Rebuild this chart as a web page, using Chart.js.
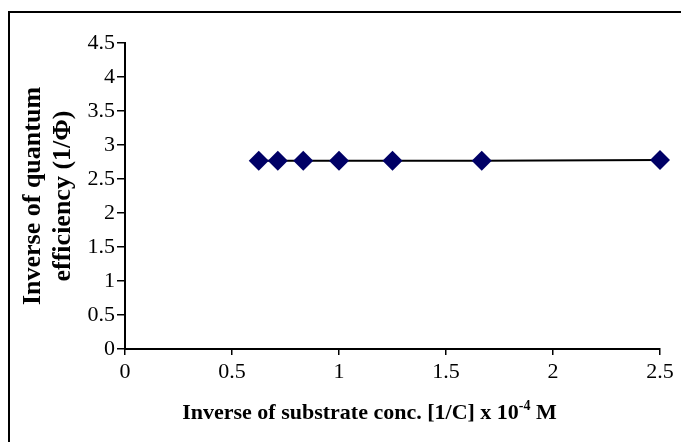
<!DOCTYPE html>
<html>
<head>
<meta charset="utf-8">
<script src="https://cdn.jsdelivr.net/npm/chart.js@4"></script>
<style>
  html, body { margin: 0; padding: 0; background: #fff; overflow: hidden; }
  #frame { position: absolute; left: 8px; top: 11px; width: 700px; height: 500px; border: 2px solid #000; }
  #wrap { position: absolute; left: 0; top: 0; width: 681px; height: 442px; }
</style>
</head>
<body>
<div id="frame"></div>
<div id="wrap"><canvas id="myChart" width="681" height="442"></canvas></div>
<script>
// inverse substrate concentration (x 10^-4 M) and inverse quantum efficiency
const inverseConc = [0.625, 0.714, 0.833, 1.0, 1.25, 1.667, 2.5];
const inverseQE = [2.77, 2.77, 2.77, 2.77, 2.77, 2.77, 2.78];
const xTicks = [0, 0.5, 1, 1.5, 2, 2.5];
const yTicks = [0, 0.5, 1, 1.5, 2, 2.5, 3, 3.5, 4, 4.5];
const xTitle = ['Inverse of substrate conc. [1/C] x 10', '-4', ' M'];

const serif = 'Liberation Serif, Times New Roman, serif';

// x axis title with a real superscript
const xTitlePlugin = {
  id: 'xTitle',
  afterDraw(chart) {
    const c = chart.ctx;
    const big = 'bold 22px ' + serif;
    const small = 'bold 14px ' + serif;
    c.save();
    c.fillStyle = '#000';
    c.textBaseline = 'alphabetic';
    c.font = big;
    const w0 = c.measureText(xTitle[0]).width;
    const w2 = c.measureText(xTitle[2]).width;
    c.font = small;
    const w1 = c.measureText(xTitle[1]).width;
    const total = w0 + w1 + w2;
    const xs = chart.scales.x;
    let x = (xs.left + xs.right) / 2 - 23 - total / 2;
    const y = xs.bottom - 23;
    c.font = big;
    c.fillText(xTitle[0], x, y);
    x += w0;
    c.font = small;
    c.fillText(xTitle[1], x, y - 9);
    x += w1;
    c.font = big;
    c.fillText(xTitle[2], x, y);
    c.restore();
  }
};

window.addEventListener('load', setup);
function setup() {
  const ctx = document.getElementById('myChart').getContext('2d');
  const points = inverseConc.map((x, i) => ({ x: x, y: inverseQE[i] }));

  new Chart(ctx, {
    type: 'scatter',
    data: {
      datasets: [
        {
          label: '1/Phi',
          data: points,
          showLine: true,
          clip: false,
          borderColor: '#000',
          borderWidth: 2,
          pointStyle: 'rectRot',
          pointRadius: 10,
          pointHoverRadius: 10,
          pointBackgroundColor: '#000066',
          pointBorderColor: '#000066',
          pointBorderWidth: 0
        }
      ]
    },
    options: {
      responsive: false,
      animation: false,
      layout: { padding: { top: 43, right: 21, left: 0, bottom: 0 } },
      plugins: { legend: { display: false }, tooltip: { enabled: false } },
      scales: {
        x: {
          type: 'linear',
          min: 0,
          max: 2.5,
          afterBuildTicks: s => { s.ticks = xTicks.map(v => ({ value: v })); },
          afterFit: s => { s.height = 93; },
          grid: { display: true, drawOnChartArea: false, drawTicks: true, tickLength: 6, color: '#000', lineWidth: 1.5 },
          border: { color: '#000', width: 2 },
          ticks: { color: '#000', padding: 4, maxRotation: 0, font: { family: serif, size: 22 }, callback: v => String(v) },
          title: { display: false }
        },
        y: {
          type: 'linear',
          min: 0,
          max: 4.5,
          afterBuildTicks: s => { s.ticks = yTicks.map(v => ({ value: v })); },
          afterFit: s => { s.width = 125; },
          grid: { display: true, drawOnChartArea: false, drawTicks: true, tickLength: 8, color: '#000', lineWidth: 1.5 },
          border: { color: '#000', width: 2 },
          ticks: { color: '#000', padding: 2, font: { family: serif, size: 22 }, callback: v => String(v) },
          title: {
            display: true,
            text: ['Inverse of quantum', 'efficiency (1/\u03A6)'],
            color: '#000',
            font: { family: serif, size: 26, weight: 'bold', lineHeight: 1.15 },
            padding: { top: 18, bottom: 0 }
          }
        }
      }
    },
    plugins: [xTitlePlugin]
  });
}
</script>
</body>
</html>
